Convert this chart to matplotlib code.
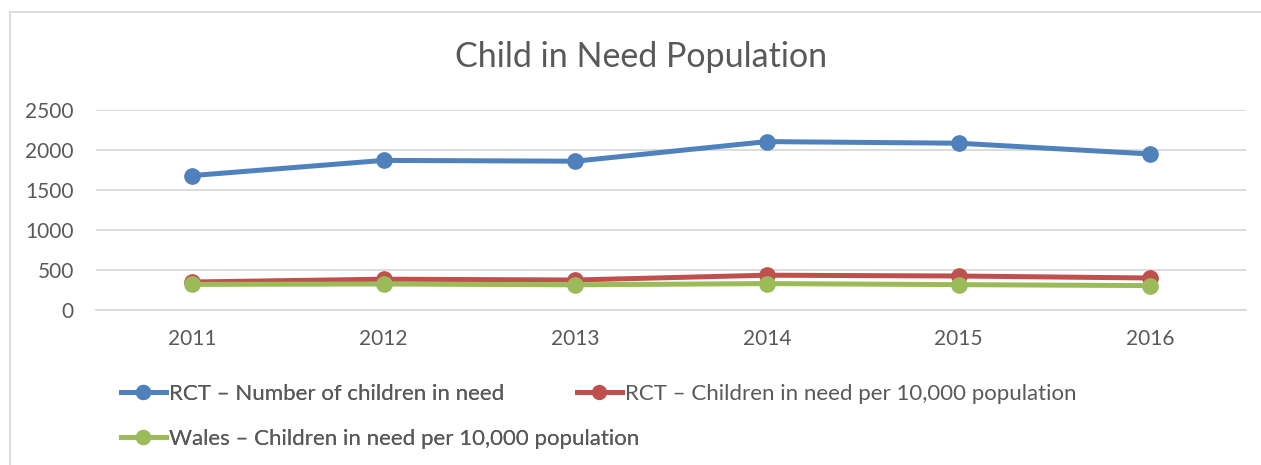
import matplotlib
matplotlib.use("Agg")
import matplotlib.pyplot as plt
from matplotlib.lines import Line2D

# --- data ---
years = ["2011", "2012", "2013", "2014", "2015", "2016"]
rct_number = [1680, 1870, 1860, 2105, 2085, 1950]
rct_per_10k = [350, 385, 375, 435, 425, 400]
wales_per_10k = [320, 325, 315, 330, 317, 305]

labels = [
    "RCT \u2013 Number of children in need",
    "RCT \u2013 Children in need per 10,000 population",
    "Wales \u2013 Children in need per 10,000 population",
]
colors = ["#4F81BD", "#C0504D", "#9BBB59"]
text_grey = "#595959"

plt.rcParams['font.family'] = ['Lato', 'DejaVu Sans']

W, H = 1261, 465
fig = plt.figure(figsize=(W / 100, H / 100), dpi=100)

# plot area in pixel coords
left, right, top, bottom = 96, 1246, 110, 310
ax = fig.add_axes([left / W, 1 - bottom / H, (right - left) / W, (bottom - top) / H])

x = list(range(len(years)))
for series, c in zip([rct_number, rct_per_10k, wales_per_10k], colors):
    ax.plot(x, series, color=c, lw=3.6, marker="o", ms=11, solid_capstyle="round", zorder=3)

ax.set_xlim(-0.5, len(years) - 0.5)
ax.set_ylim(0, 2500)
ax.set_yticks(range(0, 2501, 500))
ax.set_xticks(x)
ax.set_xticklabels(years)
ax.grid(axis="y", color="#D9D9D9", lw=1.3)
ax.set_axisbelow(True)
for s in ["top", "right", "left"]:
    ax.spines[s].set_visible(False)
ax.spines["bottom"].set_color("#D9D9D9")
ax.spines["bottom"].set_linewidth(1.3)
ax.tick_params(axis="both", length=0, labelsize=15, labelcolor=text_grey)
ax.tick_params(axis="x", pad=14)
ax.tick_params(axis="y", pad=16)

fig.text(641 / W, 1 - 57 / H, "Child in Need Population", ha="center", va="center",
         fontsize=24.5, color=text_grey)

# legend: Excel lays entries out row-first with its own column positions,
# so build the left column (blue, green) and the red entry separately
handles = [Line2D([], [], color=c, lw=3.6, marker="o", ms=10) for c in colors]
leg_kw = dict(loc="upper left", frameon=False, fontsize=16, labelcolor=text_grey,
              handlelength=2.0, handletextpad=0.15, labelspacing=1.1, borderpad=0)
leg1 = fig.legend([handles[0], handles[2]], [labels[0], labels[2]],
                  bbox_to_anchor=(110 / W, 1 - 373 / H), **leg_kw)
fig.legend([handles[1]], [labels[1]],
           bbox_to_anchor=(566 / W, 1 - 373 / H), **leg_kw)
fig.add_artist(leg1)

# outer chart border (top and left edges visible)
fig.add_artist(Line2D([10 / W, 1], [1 - 12 / H, 1 - 12 / H], transform=fig.transFigure,
                      color="#D9D9D9", lw=1.3))
fig.add_artist(Line2D([10 / W, 10 / W], [0, 1 - 12 / H], transform=fig.transFigure,
                      color="#D9D9D9", lw=1.3))

fig.savefig("out.png", dpi=100)
